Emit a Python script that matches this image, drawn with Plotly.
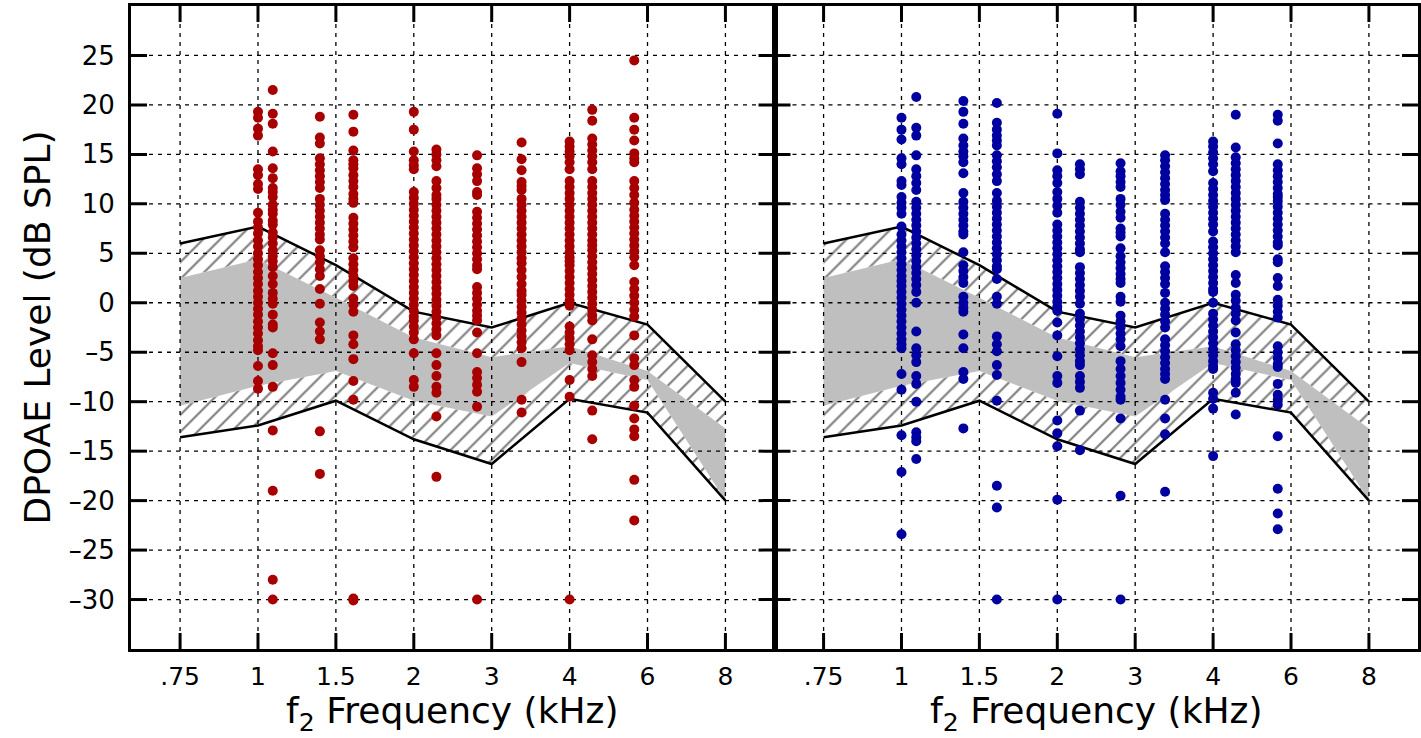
import numpy as np
import plotly.graph_objects as go

# frequency axis: ticks are equally spaced on the plot
tick_khz = [0.75, 1, 1.5, 2, 3, 4, 6, 8]
tick_text = ['.75', '1', '1.5', '2', '3', '4', '6', '8']
y_ticks = [-30, -25, -20, -15, -10, -5, 0, 5, 10, 15, 20, 25]

# normative region, given at the tick frequencies (dB SPL)
upper_line = [6.0, 7.7, 3.8, -0.9, -2.5, 0.0, -2.2, -10.0]
gray_top = [2.5, 4.4, 0.5, -3.5, -5.5, -4.4, -6.9, -12.7]
gray_bottom = [-10.4, -8.4, -6.9, -9.9, -11.5, -6.1, -7.8, -20.0]
lower_line = [-13.6, -12.4, -9.9, -13.8, -16.3, -9.7, -11.1, -20.0]

# f2 frequencies of the measured columns (kHz)
f2_khz = [1.0, 1.08, 1.38, 1.6, 2.0, 2.25, 2.78, 3.35, 4.0, 4.5, 5.6]

# left panel (red) DPOAE levels per f2 column
L_1000 = [19.3, 18.7, 17.6, 16.9, 13.5, 12.9, 12.0, 11.5, 9.1, 8.2, 7.6, 7.0, 6.3, 5.7, 5.0, 4.4, 3.8,
          3.1, 2.5, 1.9, 1.2, 0.6, 0.0, -0.6, -1.2, -1.9, -2.5, -3.1, -3.8, -4.4, -4.8, -6.4, -7.9, -8.7]
L_1080 = [21.5, 19.1, 18.1, 15.3, 13.6, 12.6, 11.6, 11.2, 10.7, 9.9, 9.4, 9.0, 8.3, 7.9, 7.1, 6.6, 6.0,
          5.3, 4.7, 4.2, 3.6, 2.7, 1.9, 1.0, 0.4, -0.1, -1.2, -2.2, -2.5, -5.1, -6.3, -8.5, -12.9, -19.0,
          -28.0, -30.0]
L_1380 = [18.8, 16.7, 16.1, 14.6, 14.0, 13.4, 12.8, 12.2, 11.6, 10.5, 9.9, 9.3, 8.7, 8.1, 7.5, 6.9, 6.4,
          5.3, 4.7, 4.1, 3.4, 2.7, 1.4, -0.1, -2.0, -2.9, -3.7, -13.0, -17.3]
L_1600 = [19.0, 17.3, 15.4, 14.4, 14.0, 13.6, 12.9, 12.3, 11.7, 11.0, 10.5, 10.1, 8.6, 8.0, 7.4, 6.8, 6.2,
          5.6, 4.5, 3.9, 3.3, 2.7, 2.2, 1.7, 0.4, -0.2, -0.9, -3.3, -4.2, -5.7, -7.9, -9.8, -29.9, -30.1]
L_2000 = [19.3, 17.5, 15.3, 14.4, 13.9, 13.5, 11.2, 10.6, 10.0, 9.4, 8.8, 8.2, 7.6, 7.0, 6.4, 5.8, 5.2,
          4.6, 4.0, 3.4, 2.8, 2.2, 1.6, 1.0, 0.4, -0.2, -0.8, -1.4, -1.8, -2.4, -3.0, -3.7, -5.1, -7.8, -8.5]
L_2250 = [15.5, 15.0, 14.4, 13.8, 12.3, 11.6, 10.9, 10.5, 9.9, 9.3, 8.7, 8.1, 7.5, 6.9, 6.3, 5.7, 5.1,
          4.5, 3.9, 3.3, 2.7, 2.1, 1.5, 0.9, 0.3, -0.3, -0.9, -1.5, -2.1, -2.7, -3.3, -5.1, -6.3, -7.4,
          -8.5, -9.1, -11.5, -17.6]
L_2780 = [14.9, 13.6, 13.0, 12.3, 11.2, 10.9, 9.2, 8.6, 8.0, 7.4, 6.8, 6.2, 5.6, 5.0, 4.4, 3.8, 3.4,
          1.6, 1.0, 0.4, -0.2, -0.8, -1.3, -1.8, -3.0, -5.1, -7.0, -7.6, -8.3, -9.0, -10.5, -30.0]
L_3350 = [16.2, 14.5, 13.4, 12.2, 11.8, 11.4, 10.5, 9.9, 9.3, 8.7, 8.1, 7.5, 6.9, 6.3, 5.7, 5.1, 4.5,
          4.0, 3.3, 2.6, 1.9, 1.2, 0.8, 0.2, -0.4, -1.0, -1.6, -2.2, -2.8, -3.4, -4.0, -4.6, -6.0, -9.8,
          -11.1]
L_4000 = [16.3, 15.8, 15.3, 14.8, 14.2, 13.5, 12.3, 11.7, 11.1, 10.5, 9.9, 9.3, 8.7, 8.1, 7.5, 6.9, 6.3,
          5.7, 5.1, 4.6, 4.2, 3.8, 3.2, 2.6, 2.0, 1.4, 0.8, 0.2, -0.3, -2.4, -3.0, -3.6, -4.2, -4.8, -7.8,
          -9.5, -30.0]
L_4500 = [19.5, 18.4, 16.6, 16.0, 15.4, 14.8, 14.2, 13.5, 12.3, 11.7, 11.1, 10.5, 9.9, 9.3, 8.7, 8.1,
          7.5, 6.9, 6.3, 5.8, 5.3, 4.7, 4.1, 3.5, 2.9, 2.3, 1.7, 1.1, 0.5, -0.1, -0.7, -1.3, -1.8, -3.7,
          -5.3, -6.0, -6.7, -7.4, -10.9, -13.8]
L_5600 = [24.5, 18.7, 17.5, 16.4, 15.1, 14.6, 14.2, 12.3, 11.6, 10.9, 10.1, 9.4, 8.8, 8.2, 7.6, 7.0,
          6.4, 5.8, 5.2, 4.6, 3.8, 2.1, 1.4, 0.7, 0.0, -0.7, -1.4, -3.3, -5.6, -6.3, -7.8, -8.5, -10.4,
          -11.7, -12.8, -13.5, -17.9, -22.0]

# right panel (blue)
R_1000 = [18.7, 17.5, 16.5, 14.6, 14.0, 12.3, 11.9, 10.7, 10.1, 9.6, 9.0, 7.7, 6.9, 6.3, 5.7, 5.1, 4.5,
          3.9, 3.3, 2.7, 2.2, 1.7, 1.1, 0.5, -0.1, -0.7, -1.3, -1.9, -2.5, -3.1, -3.7, -4.2, -4.6, -7.2,
          -8.8, -13.4, -17.1, -23.4]
R_1080 = [20.8, 17.7, 16.9, 14.9, 13.5, 12.8, 12.1, 11.4, 10.2, 9.6, 9.0, 8.4, 7.8, 7.2, 6.6, 6.0, 5.4,
          4.8, 4.2, 3.6, 3.0, 2.4, 1.8, 1.1, 0.0, -2.9, -4.6, -5.3, -6.0, -7.4, -8.2, -10.0, -13.1, -13.6,
          -14.0, -15.8]
R_1380 = [20.4, 19.3, 18.1, 16.6, 15.9, 15.3, 14.8, 14.2, 13.1, 11.1, 10.2, 9.6, 9.0, 8.4, 7.8, 7.2,
          6.9, 5.1, 3.8, 3.2, 2.6, 2.0, 0.6, 0.0, -0.5, -0.9, -3.2, -4.6, -7.0, -7.7, -12.7]
R_1600 = [20.2, 18.2, 17.5, 16.9, 16.4, 15.9, 14.9, 14.3, 13.7, 13.0, 12.3, 11.1, 10.3, 9.7, 9.1, 8.5,
          7.9, 7.3, 6.7, 6.1, 5.5, 4.9, 4.3, 3.7, 3.4, 2.4, 0.6, -0.1, -3.4, -4.2, -4.9, -6.3, -7.3, -9.9,
          -18.5, -20.7, -30.0]
R_2000 = [19.1, 15.1, 13.4, 12.8, 12.1, 11.2, 10.5, 9.8, 9.1, 7.9, 7.3, 6.7, 6.1, 5.5, 4.9, 4.3, 3.7,
          3.1, 2.5, 1.9, 1.3, 0.7, 0.1, -0.4, -0.8, -2.0, -3.3, -5.4, -7.4, -8.1, -11.9, -13.2, -14.5,
          -19.9, -30.0]
R_2250 = [14.0, 13.5, 13.0, 10.2, 9.6, 9.0, 8.4, 7.8, 7.2, 6.6, 6.0, 5.4, 5.1, 3.6, 3.0, 2.4, 1.8, 1.2,
          0.6, -0.1, -1.1, -1.7, -2.3, -2.9, -3.5, -4.1, -4.7, -5.3, -5.9, -6.3, -7.4, -8.0, -8.6, -10.9,
          -14.9]
R_2780 = [14.1, 13.3, 12.8, 12.2, 11.7, 10.5, 9.9, 9.2, 8.6, 7.5, 7.1, 6.7, 5.5, 4.7, 4.1, 3.5, 2.9,
          2.4, 2.0, 0.6, 0.1, -1.3, -1.9, -2.5, -3.1, -3.7, -4.4, -5.9, -6.7, -7.4, -8.1, -8.8, -9.5,
          -9.8, -11.7, -19.5, -30.0]
R_3350 = [14.9, 14.4, 13.8, 13.2, 12.6, 12.0, 11.4, 10.9, 10.4, 9.0, 8.4, 7.8, 7.2, 6.6, 6.0, 5.1, 3.7,
          3.1, 2.5, 1.9, 1.0, 0.0, -0.6, -1.2, -1.9, -2.5, -3.7, -4.3, -4.9, -5.5, -6.1, -6.7, -7.2, -7.7,
          -9.8, -11.7, -13.3, -19.1]
R_4000 = [16.3, 15.8, 15.2, 14.6, 14.0, 13.3, 12.1, 11.5, 10.9, 10.3, 9.7, 9.1, 8.5, 7.9, 7.2, 6.2, 5.6,
          5.0, 4.4, 3.8, 3.2, 2.6, 2.0, 1.4, 1.1, 0.0, -1.1, -1.7, -2.3, -2.9, -3.5, -4.1, -4.7, -5.3,
          -5.9, -6.4, -6.7, -9.1, -9.7, -10.7, -15.5]
R_4500 = [19.0, 15.7, 14.7, 14.1, 13.5, 12.9, 12.3, 11.7, 11.1, 10.5, 9.9, 9.3, 8.7, 8.1, 7.5, 6.9, 6.3,
          5.7, 5.1, 2.8, 2.0, 0.8, 0.2, -0.5, -1.1, -1.8, -3.0, -4.2, -4.8, -5.4, -6.0, -6.6, -7.2, -7.7,
          -8.1, -9.1, -11.3]
R_5600 = [19.0, 18.4, 16.1, 14.0, 13.4, 12.8, 12.2, 11.6, 11.0, 10.7, 10.3, 9.7, 9.1, 8.5, 7.9, 7.3,
          6.7, 6.1, 5.8, 4.4, 4.1, 2.5, 1.7, 0.3, -0.3, -0.9, -1.5, -4.4, -5.0, -5.6, -6.2, -6.5, -8.2,
          -9.3, -9.8, -10.3, -13.5, -18.8, -21.3, -22.9]

left_cols = [L_1000, L_1080, L_1380, L_1600, L_2000, L_2250, L_2780, L_3350, L_4000, L_4500, L_5600]
right_cols = [R_1000, R_1080, R_1380, R_1600, R_2000, R_2250, R_2780, R_3350, R_4000, R_4500, R_5600]

RED = '#a80000'
BLUE = '#0000a0'
FONT = 'DejaVu Sans'
XR = [-0.63, 7.63]
YR = [-35, 30]
TICKLEN = 16  # px, ticks point into the plot


def pos(khz):
    # place a frequency on the equally spaced tick scale
    return np.interp(np.log(khz), np.log(tick_khz), np.arange(len(tick_khz)))


tick_pos = list(range(len(tick_khz)))
hatch = dict(shape='/', fgcolor='black', bgcolor='white', size=12, solidity=0.18)

fig = go.Figure()
annotations = []

for xa, ya, cols, color in [('x', 'y', left_cols, RED), ('x2', 'y2', right_cols, BLUE)]:
    # upper hatched band
    fig.add_trace(go.Scatter(
        x=tick_pos + tick_pos[::-1], y=upper_line + gray_top[::-1],
        xaxis=xa, yaxis=ya, mode='none', fill='toself', fillcolor='white',
        fillpattern=hatch, hoverinfo='skip', showlegend=False))
    # lower hatched band
    fig.add_trace(go.Scatter(
        x=tick_pos + tick_pos[::-1], y=gray_bottom + lower_line[::-1],
        xaxis=xa, yaxis=ya, mode='none', fill='toself', fillcolor='white',
        fillpattern=hatch, hoverinfo='skip', showlegend=False))
    # gray core region
    fig.add_trace(go.Scatter(
        x=tick_pos + tick_pos[::-1], y=gray_top + gray_bottom[::-1],
        xaxis=xa, yaxis=ya, mode='none', fill='toself', fillcolor='#bfbfbf',
        hoverinfo='skip', showlegend=False))

    # dotted grid drawn above the fills but below the points
    gx, gy = [], []
    for t in tick_pos:
        gx += [t, t, None]
        gy += [YR[0], YR[1], None]
    for v in y_ticks:
        gx += [XR[0], XR[1], None]
        gy += [v, v, None]
    fig.add_trace(go.Scatter(
        x=gx, y=gy, xaxis=xa, yaxis=ya, mode='lines',
        line=dict(color='black', width=1.3, dash='4px,5px'),
        hoverinfo='skip', showlegend=False))

    # boundary lines
    for band in (upper_line, lower_line):
        fig.add_trace(go.Scatter(
            x=tick_pos, y=band, xaxis=xa, yaxis=ya, mode='lines',
            line=dict(color='black', width=2.5), hoverinfo='skip', showlegend=False))

    # measured DPOAE levels
    px, py = [], []
    for f, vals in zip(f2_khz, cols):
        px += [float(pos(f))] * len(vals)
        py += vals
    fig.add_trace(go.Scatter(
        x=px, y=py, xaxis=xa, yaxis=ya, mode='markers',
        marker=dict(color=color, size=10, line=dict(width=0)),
        showlegend=False))

    # inward tick marks on all four sides of the frame
    for t in tick_pos:
        for anchor, sign in ((YR[0], 1), (YR[1], -1)):
            fig.add_shape(type='line', xref=xa, yref=ya, x0=t, x1=t,
                          ysizemode='pixel', yanchor=anchor, y0=0, y1=sign * TICKLEN,
                          line=dict(color='black', width=3), layer='above')
    for v in y_ticks:
        for anchor, sign in ((XR[0], 1), (XR[1], -1)):
            fig.add_shape(type='line', xref=xa, yref=ya, y0=v, y1=v,
                          xsizemode='pixel', xanchor=anchor, x0=0, x1=sign * TICKLEN,
                          line=dict(color='black', width=3), layer='above')

    # x axis title under each panel
    annotations.append(dict(
        text='f<sub>2</sub> Frequency (kHz)', xref=xa + ' domain', x=0.5, xanchor='center',
        yref='paper', y=-0.1, yanchor='middle', showarrow=False,
        font=dict(family=FONT, size=36, color='black')))

xaxis_common = dict(
    range=XR, tickmode='array', tickvals=tick_pos, ticktext=tick_text,
    showgrid=False, zeroline=False, showline=True, linecolor='black', linewidth=3,
    mirror=True, ticks='', automargin=False, ticklabelstandoff=3,
    tickfont=dict(family=FONT, size=25, color='black'),
)
yaxis_common = dict(
    range=YR, tickmode='array', tickvals=y_ticks,
    ticktext=[str(v).replace('-', '\u2013') for v in y_ticks],
    showgrid=False, zeroline=False, showline=True, linecolor='black', linewidth=3,
    mirror=True, ticks='', automargin=False, ticklabelstandoff=8,
    tickfont=dict(family=FONT, size=26, color='black'),
)

fig.update_layout(
    width=1421, height=738,
    margin=dict(l=131, r=3, t=6, b=89),
    paper_bgcolor='white', plot_bgcolor='white',
    xaxis=dict(domain=[0, 0.5], anchor='y', **xaxis_common),
    xaxis2=dict(domain=[0.5, 1], anchor='y2', **xaxis_common),
    yaxis=dict(anchor='x', title=dict(text='DPOAE Level (dB SPL)',
                                      font=dict(family=FONT, size=36, color='black'), standoff=8),
               **yaxis_common),
    yaxis2=dict(anchor='x2', matches='y', showticklabels=False, **yaxis_common),
    annotations=annotations,
)

# the page body has a default margin; drop it so the figure fills the window
fig.write_html('out.html', config={'displayModeBar': False},
               post_script="document.body.style.margin='0';")
